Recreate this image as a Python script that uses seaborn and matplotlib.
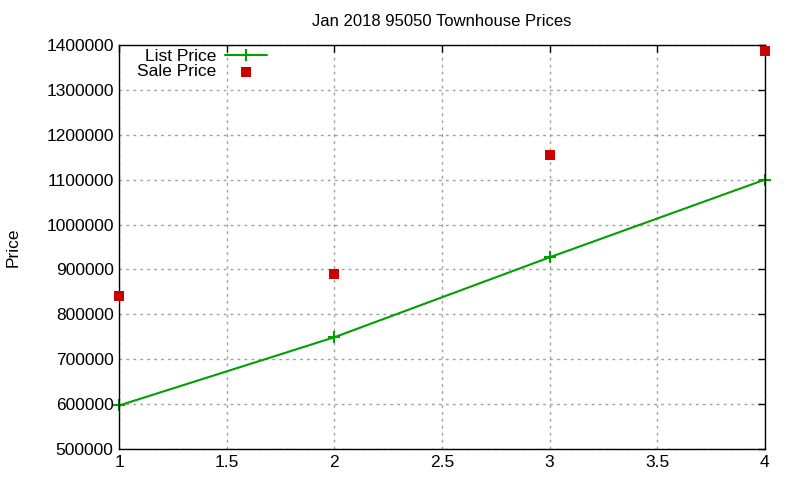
import matplotlib
matplotlib.use("Agg")
import matplotlib.pyplot as plt
import seaborn as sns
import pandas as pd

bedrooms = [1, 2, 3, 4]
list_price = [597000, 749000, 927000, 1100000]
sale_price = [841000, 890000, 1156000, 1386000]
yticks = [500000, 600000, 700000, 800000, 900000, 1000000, 1100000, 1200000, 1300000, 1400000]
xticks = [1, 1.5, 2, 2.5, 3, 3.5, 4]

sns.set_theme(style="white")
plt.rcParams['font.family'] = ['Liberation Sans', 'DejaVu Sans']
plt.rcParams['text.color'] = 'black'
plt.rcParams['axes.labelcolor'] = 'black'

df = pd.DataFrame({"x": bedrooms, "list": list_price, "sale": sale_price})

fig = plt.figure(figsize=(8, 4.8), dpi=100)
ax = fig.add_axes([0.149, 0.0646, 0.807, 0.8416])

sns.lineplot(data=df, x="x", y="list", ax=ax, color="#00a000", linewidth=1.5,
             marker="+", markersize=8, markeredgewidth=1.5,
             markeredgecolor="#00a000", label="List Price", clip_on=False)
sns.scatterplot(data=df, x="x", y="sale", ax=ax, color="#cc0000", marker="s",
                s=45, linewidth=0, label="Sale Price", clip_on=False, zorder=5)

ax.set_xlim(1, 4)
ax.set_ylim(500000, 1400000)
ax.set_xticks(xticks)
ax.set_xticklabels([f"{v:g}" for v in xticks])
ax.set_yticks(yticks)
ax.set_yticklabels([str(v) for v in yticks])
ax.grid(True, color="#a0a0a0", linestyle=(0, (2, 3)), linewidth=1)
ax.tick_params(direction="in", top=True, right=True, length=5, width=1,
               labelsize=12.5, colors="black", pad=4)
for sp in ax.spines.values():
    sp.set_color("black")
    sp.set_linewidth(1)
ax.set_xlabel("")
ax.set_ylabel("Price", fontsize=12.5, color="black")
ax.yaxis.set_label_coords(-0.152, 0.5)
ax.set_title("Jan 2018 95050 Townhouse Prices", fontsize=12, pad=14, color="black")

leg = ax.legend(loc="upper left", bbox_to_anchor=(0.009, 1.02), frameon=False,
                markerfirst=False, fontsize=12.5, handlelength=2.4,
                labelspacing=0.0, borderaxespad=0.3, handletextpad=0.5)
for t in leg.get_texts():
    t.set_ha("right")
    t.set_color("black")

fig.savefig("out.png", dpi=100)
